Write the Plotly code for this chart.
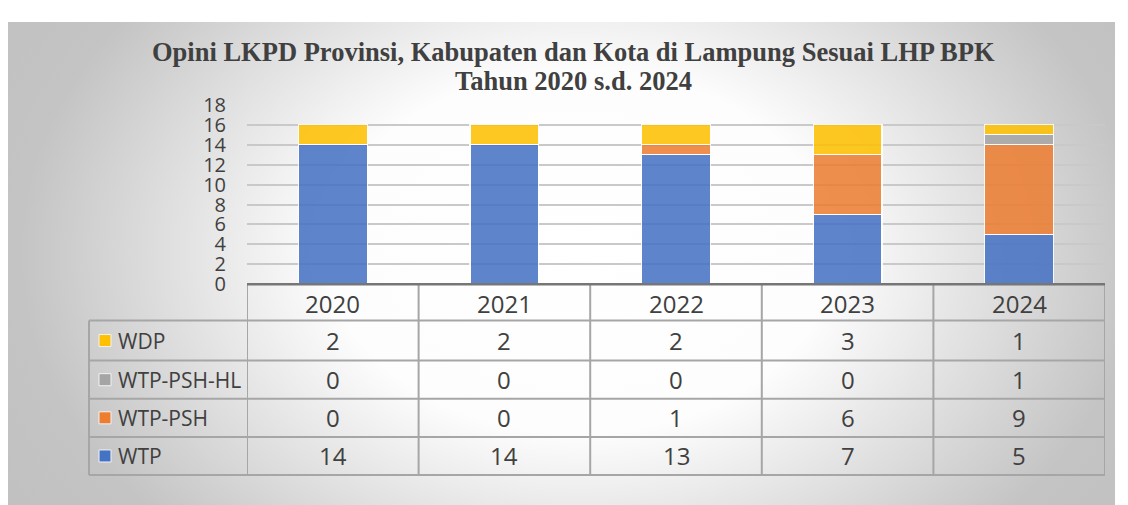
import plotly.graph_objects as go

# ---------------- data ----------------
years = ["2020", "2021", "2022", "2023", "2024"]
series_names = ["WTP", "WTP-PSH", "WTP-PSH-HL", "WDP"]
wtp = [14, 14, 13, 7, 5]
wtp_psh = [0, 0, 1, 6, 9]
wtp_psh_hl = [0, 0, 0, 0, 1]
wdp = [2, 2, 2, 3, 1]
y_ticks = [0, 2, 4, 6, 8, 10, 12, 14, 16, 18]
title_line1 = "Opini LKPD Provinsi, Kabupaten dan Kota di Lampung Sesuai LHP BPK"
title_line2 = "Tahun 2020 s.d. 2024"

series_values = [wtp, wtp_psh, wtp_psh_hl, wdp]
colors = ["#4472C4", "#ED7D31", "#A5A5A5", "#FFC000"]

# ---------------- layout helpers (target pixel -> paper) ----------------
OX = 8                      # horizontal page offset of the figure
OY, SY = 21.8, 0.944        # vertical page offset and vertical photo scale
W, H = 1112, 513            # figure size
def px(x):
    return (x - OX) / W
def py(y):
    return 1 - (y / SY - OY) / H

PL, PR, PT, PB = 247, 1105, 103, 282          # plot area (target pixels)
TAB_LEFT = 89
row_edges = [282, 318, 358, 396, 434, 472]     # header + 4 rows
TXT = "#404040"
GRID = "#a6a6a6"
BOX = (7, 1115, 13, 504)                       # chart box (target pixels)

fig = go.Figure()

# background radial gradient: hidden axis pair in target-pixel units, clipped to the box
box_x0 = max(BOX[0], OX)
box_y0 = max(BOX[2], SY * OY)
gcx, gcy, grx, gry = 580, 250, 700, 500
fig.add_trace(go.Scatter(
    x=[gcx - grx, gcx + grx, gcx + grx, gcx - grx, gcx - grx],
    y=[gcy - gry, gcy - gry, gcy + gry, gcy + gry, gcy - gry],
    mode="lines", fill="toself", line=dict(width=0),
    fillgradient=dict(type="radial",
                      colorscale=[[0, "#ffffff"], [0.36, "#fdfdfd"], [0.8, "#c4c4c4"],
                                  [1, "#c0c0c0"]]),
    hoverinfo="skip", showlegend=False, xaxis="x", yaxis="y"))

# stacked bars
for name, vals, col in zip(series_names, series_values, colors):
    fig.add_trace(go.Bar(
        x=list(range(len(years))), y=vals, name=name,
        marker=dict(color=col, opacity=0.86, line=dict(color="#ffffff", width=1.2)),
        width=0.4, xaxis="x2", yaxis="y2", showlegend=False))

shapes = []
# table horizontal lines
for ry in row_edges[1:]:
    shapes.append(dict(type="line", xref="paper", yref="paper",
                       x0=px(TAB_LEFT), x1=px(PR), y0=py(ry), y1=py(ry),
                       line=dict(color=GRID, width=2)))
# table vertical lines (column edges in category coordinates)
for i in range(len(years) + 1):
    shapes.append(dict(type="line", xref="x2", yref="paper",
                       x0=i - 0.5, x1=i - 0.5, y0=py(row_edges[0]), y1=py(row_edges[-1]),
                       line=dict(color=GRID, width=2)))
# label column left edge
shapes.append(dict(type="line", xref="paper", yref="paper",
                   x0=px(TAB_LEFT), x1=px(TAB_LEFT), y0=py(row_edges[1]), y1=py(row_edges[-1]),
                   line=dict(color=GRID, width=2)))
# category axis line
shapes.append(dict(type="line", xref="paper", yref="paper",
                   x0=px(PL), x1=px(PR), y0=py(PB), y1=py(PB),
                   line=dict(color="#767676", width=2.5)))

annotations = []
# title (two lines)
for txt, yc in ((title_line1, 50), (title_line2, 79)):
    annotations.append(dict(text=txt, xref="paper", yref="paper", x=px(573), y=py(yc),
                            xanchor="center", yanchor="middle", showarrow=False,
                            font=dict(family="Liberation Serif", size=26.5, color=TXT,
                                      weight="bold")))
# header years
hdr_c = (row_edges[0] + row_edges[1]) / 2
for i, yr in enumerate(years):
    annotations.append(dict(text=yr, xref="x2", yref="paper", x=i, y=py(hdr_c + 1),
                            xanchor="center", yanchor="middle", showarrow=False,
                            font=dict(family="Open Sans", size=24, color=TXT)))
# rows (top to bottom: reverse of stacking order)
order = list(range(len(series_names)))[::-1]
for r, si in enumerate(order):
    rc = (row_edges[r + 1] + row_edges[r + 2]) / 2
    shapes.append(dict(type="rect", xref="paper", yref="paper",
                       x0=px(99), x1=px(111), y0=py(rc + 6), y1=py(rc - 6),
                       fillcolor=colors[si], line=dict(color="#f2f2f2", width=1)))
    annotations.append(dict(text=series_names[si], xref="paper", yref="paper",
                            x=px(116), y=py(rc), xanchor="left", yanchor="middle",
                            showarrow=False,
                            font=dict(family="Open Sans", size=21, color=TXT)))
    for i, v in enumerate(series_values[si]):
        annotations.append(dict(text=str(v), xref="x2", yref="paper", x=i, y=py(rc),
                                xanchor="center", yanchor="middle", showarrow=False,
                                font=dict(family="Open Sans", size=24, color=TXT)))

fig.update_layout(
    width=W, height=H, autosize=False,
    margin=dict(l=0, r=0, t=0, b=0),
    paper_bgcolor="#ffffff", plot_bgcolor="rgba(0,0,0,0)",
    barmode="stack", showlegend=False,
    xaxis=dict(domain=[max(px(box_x0), 0), min(px(BOX[1]), 1)], range=[box_x0, BOX[1]],
               visible=False, fixedrange=True),
    yaxis=dict(domain=[max(py(BOX[3]), 0), min(py(box_y0), 1)], range=[BOX[3], box_y0],
               visible=False, fixedrange=True),
    xaxis2=dict(domain=[px(PL), px(PR)], range=[-0.5, len(years) - 0.5], anchor="y2",
                showticklabels=False, showgrid=False, zeroline=False, ticks=""),
    yaxis2=dict(domain=[py(PB), py(PT)], range=[0, 18], anchor="x2",
                tickvals=y_ticks, ticktext=[str(t) for t in y_ticks],
                showgrid=True, gridcolor="#c9c9c9", gridwidth=1.5, zeroline=False,
                ticks="", ticklabelstandoff=20,
                tickfont=dict(family="Open Sans", size=20, color=TXT)),
    shapes=shapes, annotations=annotations,
)

fig.write_html("out.html")
